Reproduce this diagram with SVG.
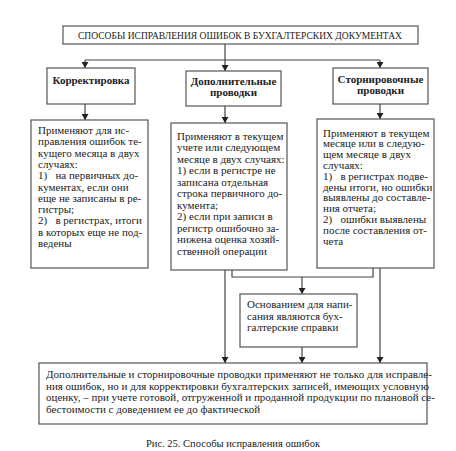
<svg xmlns="http://www.w3.org/2000/svg" width="456" height="451" viewBox="0 0 456 451">
<defs>
<marker id="arr" markerWidth="6" markerHeight="7" refX="6" refY="3.5" orient="auto" markerUnits="userSpaceOnUse">
<path d="M0,0 L6,3.5 L0,7 Z" fill="#222"/>
</marker>
<style>
.box{fill:#fff;stroke:#555;stroke-width:1.2}
.ln{fill:none;stroke:#444;stroke-width:1.2}
.t{font-size:11px;fill:#222}
.h{font-size:11px;font-weight:bold;fill:#222;text-anchor:middle}
.c{font-size:10.5px;fill:#222;text-anchor:middle}
</style>
</defs>
<rect width="456" height="451" fill="#fff"/>
<g id="connectors">
<path class="ln" d="M225,44 V60 M85,60 H380"/>
<path class="ln" d="M85,60 V68" marker-end="url(#arr)"/>
<path class="ln" d="M225,60 V71" marker-end="url(#arr)"/>
<path class="ln" d="M380,60 V68" marker-end="url(#arr)"/>
<path class="ln" d="M85,104 V120" marker-end="url(#arr)"/>
<path class="ln" d="M225,106 V123" marker-end="url(#arr)"/>
<path class="ln" d="M380,104 V119" marker-end="url(#arr)"/>
<path class="ln" d="M225,270 V363" marker-end="url(#arr)"/>
<path class="ln" d="M380,268 V363" marker-end="url(#arr)"/>
<path class="ln" d="M232,270 V277 H373 V268"/>
<path class="ln" d="M302,277 V294" marker-end="url(#arr)"/>
<path class="ln" d="M302,347 V363" marker-end="url(#arr)"/>
</g>
<g font-family="Liberation Serif, serif">
<g id="title">
<rect class="box" x="63" y="26" width="355" height="18"/>
<text class="t" x="240" y="39" text-anchor="middle" font-size="9.5" textLength="324" lengthAdjust="spacingAndGlyphs">СПОСОБЫ ИСПРАВЛЕНИЯ ОШИБОК В БУХГАЛТЕРСКИХ ДОКУМЕНТАХ</text>
</g>
<g id="korrektirovka">
<rect class="box" x="47" y="68" width="88" height="36"/>
<text class="h" x="91" y="84">Корректировка</text>
</g>
<g id="dopolnitelnye">
<rect class="box" x="186" y="71" width="95" height="35"/>
<text class="h" x="233.5" y="85">Дополнительные</text>
<text class="h" x="233.5" y="96">проводки</text>
</g>
<g id="storno">
<rect class="box" x="333" y="68" width="95" height="36"/>
<text class="h" x="380.5" y="83">Сторнировочные</text>
<text class="h" x="380.5" y="94">проводки</text>
</g>
<g id="left-desc">
<rect class="box" x="31" y="120" width="117" height="148"/>
<text class="t" x="38" y="134">Применяют для ис-</text>
<text class="t" x="38" y="145.3">правления ошибок те-</text>
<text class="t" x="38" y="156.6">кущего месяца в двух</text>
<text class="t" x="38" y="167.9">случаях:</text>
<text class="t" x="38" y="179.2" xml:space="preserve">1)   на первичных до-</text>
<text class="t" x="38" y="190.5">кументах, если они</text>
<text class="t" x="38" y="201.8">еще не записаны в ре-</text>
<text class="t" x="38" y="213.1">гистры;</text>
<text class="t" x="38" y="224.4" xml:space="preserve">2)   в регистрах, итоги</text>
<text class="t" x="38" y="235.7">в которых еще не под-</text>
<text class="t" x="38" y="247">ведены</text>
</g>
<g id="middle-desc">
<rect class="box" x="171" y="123" width="116" height="147"/>
<text class="t" x="177" y="139.5">Применяют в текущем</text>
<text class="t" x="177" y="151">учете или следующем</text>
<text class="t" x="177" y="162.5">месяце в двух случаях:</text>
<text class="t" x="177" y="174">1) если в регистре не</text>
<text class="t" x="177" y="185.5">записана отдельная</text>
<text class="t" x="177" y="197">строка первичного до-</text>
<text class="t" x="177" y="208.5">кумента;</text>
<text class="t" x="177" y="220">2) если при записи в</text>
<text class="t" x="177" y="231.5">регистр ошибочно за-</text>
<text class="t" x="177" y="243">нижена оценка хозяй-</text>
<text class="t" x="177" y="254.5">ственной операции</text>
</g>
<g id="right-desc">
<rect class="box" x="317" y="119" width="117" height="149"/>
<text class="t" x="323" y="136.5">Применяют в текущем</text>
<text class="t" x="323" y="147.3">месяце или в следую-</text>
<text class="t" x="323" y="158.1">щем месяце в двух</text>
<text class="t" x="323" y="168.9">случаях:</text>
<text class="t" x="323" y="179.7" xml:space="preserve">1)   в регистрах подве-</text>
<text class="t" x="323" y="190.5">дены итоги, но ошибки</text>
<text class="t" x="323" y="201.3">выявлены до составле-</text>
<text class="t" x="323" y="212.1">ния отчета;</text>
<text class="t" x="323" y="222.9" xml:space="preserve">2)   ошибки выявлены</text>
<text class="t" x="323" y="233.7">после составления от-</text>
<text class="t" x="323" y="244.5">чета</text>
</g>
<g id="osnovanie">
<rect class="box" x="240" y="294" width="117" height="53"/>
<text class="t" x="247" y="308">Основанием для напи-</text>
<text class="t" x="247" y="319.5">сания являются бух-</text>
<text class="t" x="247" y="331">галтерские справки</text>
</g>
<g id="bottom-note">
<rect class="box" x="39" y="363" width="388" height="61"/>
<text class="t" x="46" y="378">Дополнительные и сторнировочные проводки применяют не только для исправле-</text>
<text class="t" x="46" y="389.5">ния ошибок, но и для корректировки бухгалтерских записей, имеющих условную</text>
<text class="t" x="46" y="401">оценку, – при учете готовой, отгруженной и проданной продукции по плановой се-</text>
<text class="t" x="46" y="412.5">бестоимости с доведением ее до фактической</text>
</g>
<text class="c" x="233" y="447">Рис. 25. Способы исправления ошибок</text>
</g>
</svg>
